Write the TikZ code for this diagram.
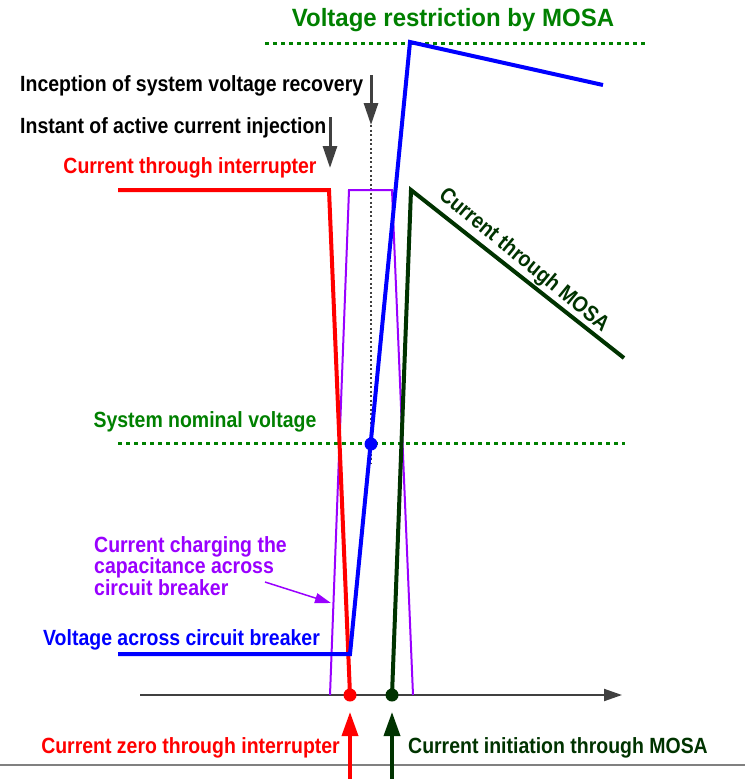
\documentclass[tikz,border=0pt]{standalone}
\usepackage{fontspec}
\setmainfont{Liberation Sans}
\newfontfamily\lblf[FakeStretch=0.885]{Liberation Sans}
\newfontfamily\titf[FakeStretch=0.96]{Liberation Sans}
\usetikzlibrary{arrows.meta}
\definecolor{cred}{HTML}{FF0000}
\definecolor{cblue}{HTML}{0000FF}
\definecolor{cpurple}{HTML}{9900FF}
\definecolor{cdgreen}{HTML}{003300}
\definecolor{cgreen}{HTML}{008000}
\definecolor{cgray}{HTML}{404040}
\tikzset{
  lbl/.style={font=\lblf\bfseries\fontsize{22}{21.5}\selectfont, inner sep=0pt},
  biglbl/.style={font=\titf\bfseries\fontsize{25}{28}\selectfont, inner sep=0pt},
  curve/.style={line width=4pt, line join=miter},
  thincurve/.style={line width=2pt, cpurple},
  greendash/.style={cgreen, line width=3pt, dash pattern=on 4pt off 4pt},
  darrow/.style={cgray, line width=3pt, -{Triangle[length=22pt,width=14pt]}},
  bigarrow/.style={line width=3.5pt, -{Triangle[length=24pt,width=16pt]}},
  dot/.style={circle, fill, inner sep=0pt, minimum size=13pt}
}
\begin{document}
\begin{tikzpicture}[x=1pt,y=-1pt]
\useasboundingbox (0,0) rectangle (750,779);
% points
\coordinate (vA) at (118,654);
\coordinate (vB) at (350,654);
\coordinate (vC) at (410,42);
\coordinate (vD) at (603,85);
\coordinate (rA) at (118,190);
\coordinate (rB) at (329,190);
\coordinate (rC) at (350,695);
\coordinate (pA) at (330,695);
\coordinate (pB) at (349,190);
\coordinate (pC) at (392,190);
\coordinate (pD) at (413,695);
\coordinate (gA) at (392,695);
\coordinate (gB) at (411,190);
\coordinate (gC) at (624,358);
% title and MOSA restriction
\node[biglbl, text=cgreen] (title) at (453,20) {Voltage restriction by MOSA};
\coordinate (mL) at (265,43);
\coordinate (mR) at (648,43);
\draw[greendash] (mL) -- (mR);
% nominal voltage
\coordinate (nL) at (118,443);
\coordinate (nR) at (625,443);
\draw[greendash] (nL) -- (nR);
\node[lbl, text=cgreen] (nom) at (205,422) {System nominal voltage};
% axis
\coordinate (axL) at (140,695);
\coordinate (axR) at (622,695);
\draw[cgray, line width=2pt, -{Triangle[length=18pt,width=12pt]}] (axL) -- (axR);
\coordinate (bL) at (0,765);
\coordinate (bR) at (745,765);
\draw[gray, line width=2pt] (bL) -- (bR);
% dotted recovery line
\coordinate (dT) at (371,125);
\coordinate (dB) at (371,463);
\draw[cgray, line width=1.2pt, dash pattern=on 2pt off 2.5pt] (dT) -- (dB);
% curves
\draw[thincurve] (pA) -- (pB) -- (pC) -- (pD);
\draw[curve, cred] (rA) -- (rB) -- (rC);
\draw[curve, cdgreen] (gA) -- (gB) -- (gC);
\draw[curve, cblue] (vA) -- (vB) -- (vC) -- (vD);
\node[dot, cblue] (bdot) at (371,444) {};
\node[dot, cred] (rdot) at (rC) {};
\node[dot, cdgreen] (gdot) at (gA) {};
% labels top
\node[lbl, anchor=west] (inc) at (20,86) {Inception of system voltage recovery};
\node[lbl, anchor=west] (ins) at (20,128) {Instant of active current injection};
\coordinate (a1s) at (371,75);
\draw[darrow] (a1s) -- (dT);
\coordinate (a2s) at (330,117);
\coordinate (a2e) at (330,168);
\draw[darrow] (a2s) -- (a2e);
\node[lbl, text=cred] (cti) at (190,168) {Current through interrupter};
\node[lbl, text=cdgreen, rotate=-39.5, anchor=base] (ctm) at (520,265) {Current through MOSA};
% purple label
\node[lbl, text=cpurple, anchor=north west, align=left] (cap) at (94,536) {Current charging the\\capacitance across\\circuit breaker};
\coordinate (pa1) at (265,582);
\coordinate (pa2) at (331,603);
\draw[cpurple, line width=1.5pt, -{Triangle[length=16pt,width=10pt]}] (pa1) -- (pa2);
\node[lbl, text=cblue, anchor=west] (vac) at (43,640) {Voltage across circuit breaker};
% bottom
\coordinate (ra1) at (350,779);
\coordinate (ra2) at (350,712);
\draw[bigarrow, cred] (ra1) -- (ra2);
\coordinate (ga1) at (392,779);
\coordinate (ga2) at (392,712);
\draw[bigarrow, cdgreen] (ga1) -- (ga2);
\node[lbl, text=cred, anchor=east] (czi) at (340,748) {Current zero through interrupter};
\node[lbl, text=cdgreen, anchor=west] (cim) at (408,748) {Current initiation through MOSA};
\end{tikzpicture}
\end{document}
